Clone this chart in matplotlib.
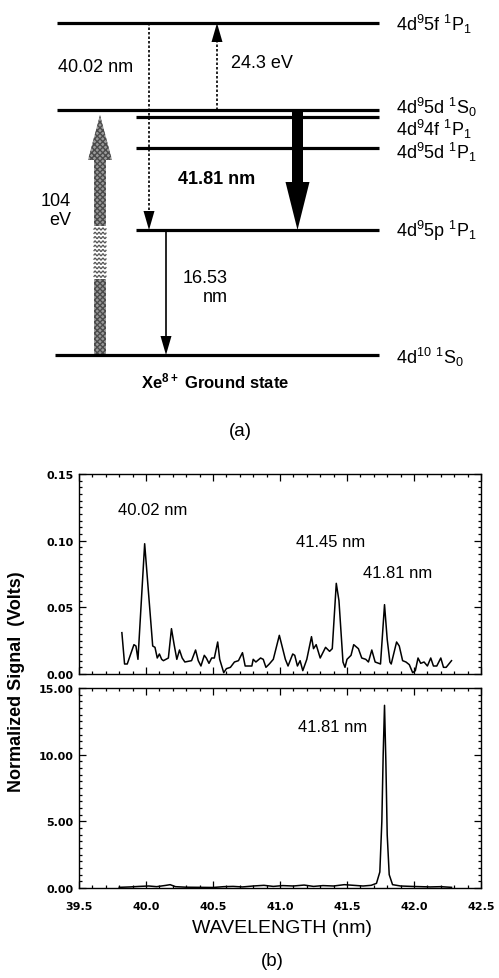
import numpy as np
import matplotlib.pyplot as plt
from matplotlib.patches import Polygon
from matplotlib.ticker import MultipleLocator, FormatStrFormatter

plt.rcParams['font.family'] = ['Liberation Sans', 'DejaVu Sans']
plt.rcParams['mathtext.default'] = 'regular'

# (a) schematic level diagram, heights in diagram units (top -> bottom)
level_names = [r'4d$^9$5f $^1$P$_1$', r'4d$^9$5d $^1$S$_0$', r'4d$^9$4f $^1$P$_1$',
               r'4d$^9$5d $^1$P$_1$', r'4d$^9$5p $^1$P$_1$', r'4d$^{10}$ $^1$S$_0$']
level_height = [24, 111, 118, 149, 231, 356]
level_start = [57, 57, 136, 136, 136, 55]
label_shift = [0, -4, 11, 3, 0, 1]

# (b) spectra
wl_top = [39.82, 39.84, 39.86, 39.91, 39.925, 39.94, 39.99, 40.05, 40.067, 40.084,
          40.10, 40.117, 40.13, 40.167, 40.19, 40.21, 40.23, 40.25, 40.27, 40.29,
          40.34, 40.37, 40.39, 40.41, 40.435, 40.45, 40.47, 40.49, 40.51, 40.535,
          40.55, 40.58, 40.60, 40.63, 40.66, 40.69, 40.72, 40.74, 40.76, 40.79,
          40.80, 40.82, 40.855, 40.875, 40.895, 40.92, 40.95, 40.995, 41.02, 41.04,
          41.06, 41.095, 41.11, 41.13, 41.15, 41.17, 41.20, 41.235, 41.25, 41.27,
          41.30, 41.34, 41.37, 41.39, 41.42, 41.44, 41.47, 41.485, 41.50, 41.53,
          41.55, 41.585, 41.61, 41.64, 41.66, 41.685, 41.71, 41.75, 41.78, 41.80,
          41.82, 41.83, 41.87, 41.89, 41.915, 41.94, 41.965, 41.99, 42.01, 42.03,
          42.05, 42.075, 42.10, 42.125, 42.145, 42.17, 42.20, 42.22, 42.24, 42.28]
sig_top = [0.031, 0.0075, 0.0075, 0.022, 0.021, 0.011, 0.0977, 0.021, 0.020, 0.012,
           0.015, 0.011, 0.010, 0.012, 0.034, 0.022, 0.011, 0.018, 0.012, 0.009,
           0.010, 0.018, 0.010, 0.006, 0.014, 0.012, 0.008, 0.012, 0.012, 0.024,
           0.011, 0.001, 0.004, 0.005, 0.009, 0.010, 0.016, 0.006, 0.006, 0.006,
           0.011, 0.009, 0.012, 0.011, 0.005, 0.0075, 0.011, 0.029, 0.019, 0.011,
           0.006, 0.015, 0.014, 0.006, 0.010, 0.0025, 0.011, 0.028, 0.019, 0.022,
           0.012, 0.020, 0.017, 0.019, 0.068, 0.055, 0.009, 0.005, 0.011, 0.014,
           0.022, 0.019, 0.012, 0.011, 0.009, 0.018, 0.009, 0.0075, 0.052, 0.026,
           0.009, 0.0075, 0.024, 0.021, 0.010, 0.009, 0.007, 0.001, 0.0025, 0.012,
           0.008, 0.009, 0.006, 0.012, 0.006, 0.006, 0.012, 0.005, 0.005, 0.010]

wl_bot = [39.80, 39.88, 39.95, 40.02, 40.08, 40.15, 40.18, 40.22, 40.30, 40.40,
          40.50, 40.58, 40.65, 40.72, 40.80, 40.88, 40.95, 41.02, 41.10, 41.18,
          41.25, 41.32, 41.40, 41.48, 41.55, 41.62, 41.68, 41.72, 41.745, 41.76,
          41.77, 41.78, 41.79, 41.80, 41.815, 41.84, 41.90, 41.98, 42.05, 42.12,
          42.20, 42.28]
sig_bot = [0.05, 0.08, 0.12, 0.15, 0.10, 0.20, 0.25, 0.10, 0.06, 0.05,
           0.04, 0.10, 0.12, 0.08, 0.15, 0.20, 0.12, 0.18, 0.15, 0.22,
           0.12, 0.18, 0.15, 0.25, 0.20, 0.15, 0.20, 0.35, 1.2, 5.0,
           10.0, 13.7, 9.5, 4.0, 1.0, 0.25, 0.15, 0.12, 0.10, 0.08,
           0.10, 0.05]

fig = plt.figure(figsize=(4.99, 9.79), dpi=100)

# ---------- (a) ----------
ax = fig.add_axes([0, 0.5, 1, 0.5])
ax.set_xlim(0, 499)
ax.set_ylim(489.5, 0)
ax.axis('off')

for name, y, x0, dy in zip(level_names, level_height, level_start, label_shift):
    ax.plot([x0, 379], [y, y], color='black', lw=2.3, solid_capstyle='butt')
    ax.text(396, y + dy, name, fontsize=13, va='center', ha='left')


def thin_arrow(x, y0, y1, ls):
    d = np.sign(y1 - y0)
    hl, hw = 19, 5.5
    ax.plot([x, x], [y0, y1 - d * hl], color='black', lw=1.2, ls=ls)
    ax.add_patch(Polygon([(x - hw, y1 - d * hl), (x + hw, y1 - d * hl), (x, y1)],
                         closed=True, color='black', lw=0))


L = level_height
thin_arrow(149, L[0], L[4], (0, (1.5, 1.2)))   # 40.02 nm
thin_arrow(217, L[1], L[0], (0, (1.5, 1.2)))   # 24.3 eV
thin_arrow(166, L[4], L[5], '-')               # 16.53 nm

# 41.81 nm thick arrow
x, sw, hw, hl = 297.5, 5.5, 12, 48
ax.add_patch(Polygon([(x - sw, L[1]), (x + sw, L[1]), (x + sw, L[4] - hl),
                      (x + hw, L[4] - hl), (x, L[4]), (x - hw, L[4] - hl),
                      (x - sw, L[4] - hl)], closed=True, color='black', lw=0))

# 104 eV excitation arrow (shaded, wavy middle section)
x, sw, hw = 100, 6, 12
tip, head_base, wave_top, wave_bot = L[1] + 5, L[1] + 50, 227, 280
shade = dict(closed=True, facecolor='#9a9a9a', edgecolor='#4a4a4a', hatch='xxxxxx', lw=0)
ax.add_patch(Polygon([(x - sw, head_base), (x - hw, head_base), (x, tip),
                      (x + hw, head_base), (x + sw, head_base), (x + sw, wave_top),
                      (x - sw, wave_top)], **shade))
ax.add_patch(Polygon([(x - sw, wave_bot), (x + sw, wave_bot), (x + sw, L[5]),
                      (x - sw, L[5])], **shade))
t = np.linspace(-sw, sw, 40)
for yy in np.arange(wave_top + 3, wave_bot - 1, 4.3):
    ax.plot(x + t, yy + 1.0 * np.sin(t * 1.6), color='#555555', lw=0.9)

ax.text(58, 67, '40.02 nm', fontsize=13, va='center', ha='left')
ax.text(231, 64, '24.3 eV', fontsize=13, va='center', ha='left')
ax.text(178, 180, '41.81 nm', fontsize=13, va='center', ha='left', weight='bold')
ax.text(71, 211, '104\neV', fontsize=13, va='center', ha='right', multialignment='right',
        linespacing=1.15)
ax.text(228, 288, '16.53\nnm', fontsize=13, va='center', ha='right', multialignment='right',
        linespacing=1.15)
ax.text(215, 381, r'Xe$^{8+}$ Ground state', fontsize=12, va='center', ha='center',
        weight='bold')
ax.text(240, 432, '(a)', fontsize=13.5, va='center', ha='center')

# ---------- (b) ----------
W, H = 499, 979
ax1 = fig.add_axes([79 / W, 1 - 675 / H, 402 / W, 200 / H])
ax2 = fig.add_axes([79 / W, 1 - 889 / H, 402 / W, 200 / H])

ax1.plot(wl_top, sig_top, color='black', lw=1.1)
ax2.plot(wl_bot, sig_bot, color='black', lw=1.1)

ax1.set_ylim(0, 0.15)
ax2.set_ylim(0, 15)
ax1.yaxis.set_major_locator(MultipleLocator(0.05))
ax1.yaxis.set_minor_locator(MultipleLocator(0.005))
ax2.yaxis.set_major_locator(MultipleLocator(5))
ax2.yaxis.set_minor_locator(MultipleLocator(0.5))

for a in (ax1, ax2):
    a.set_xlim(39.5, 42.5)
    a.xaxis.set_major_locator(MultipleLocator(0.5))
    a.xaxis.set_minor_locator(MultipleLocator(0.1))
    a.xaxis.set_major_formatter(FormatStrFormatter('%.1f'))
    a.yaxis.set_major_formatter(FormatStrFormatter('%.2f'))
    a.tick_params(which='both', direction='in', top=True, right=True, width=0.9)
    a.tick_params(which='major', length=5, labelsize=8)
    a.tick_params(which='minor', length=2.5)
    a.tick_params(axis='y', pad=4)
    a.tick_params(axis='x', pad=9)
    for s in a.spines.values():
        s.set_linewidth(1.0)
    for lab in a.get_xticklabels() + a.get_yticklabels():
        lab.set_fontweight('bold')
        lab.set_family('DejaVu Sans')
ax1.tick_params(labelbottom=False)

ax1.text(40.05, 0.123, '40.02 nm', fontsize=12, ha='center', va='center')
ax1.text(41.38, 0.099, '41.45 nm', fontsize=12, ha='center', va='center')
ax1.text(41.88, 0.076, '41.81 nm', fontsize=12, ha='center', va='center')
ax2.text(41.39, 12.15, '41.81 nm', fontsize=12, ha='center', va='center')

fig.text(17 / W, 1 - 682 / H, 'Normalized Signal  (Volts)', rotation=90, fontsize=13,
         weight='bold', ha='center', va='center')
fig.text(282 / W, 1 - 929 / H, 'WAVELENGTH (nm)', fontsize=14, ha='center', va='center')
fig.text(272 / W, 1 - 962 / H, '(b)', fontsize=13.5, ha='center', va='center')

fig.savefig('out.png', dpi=100)
